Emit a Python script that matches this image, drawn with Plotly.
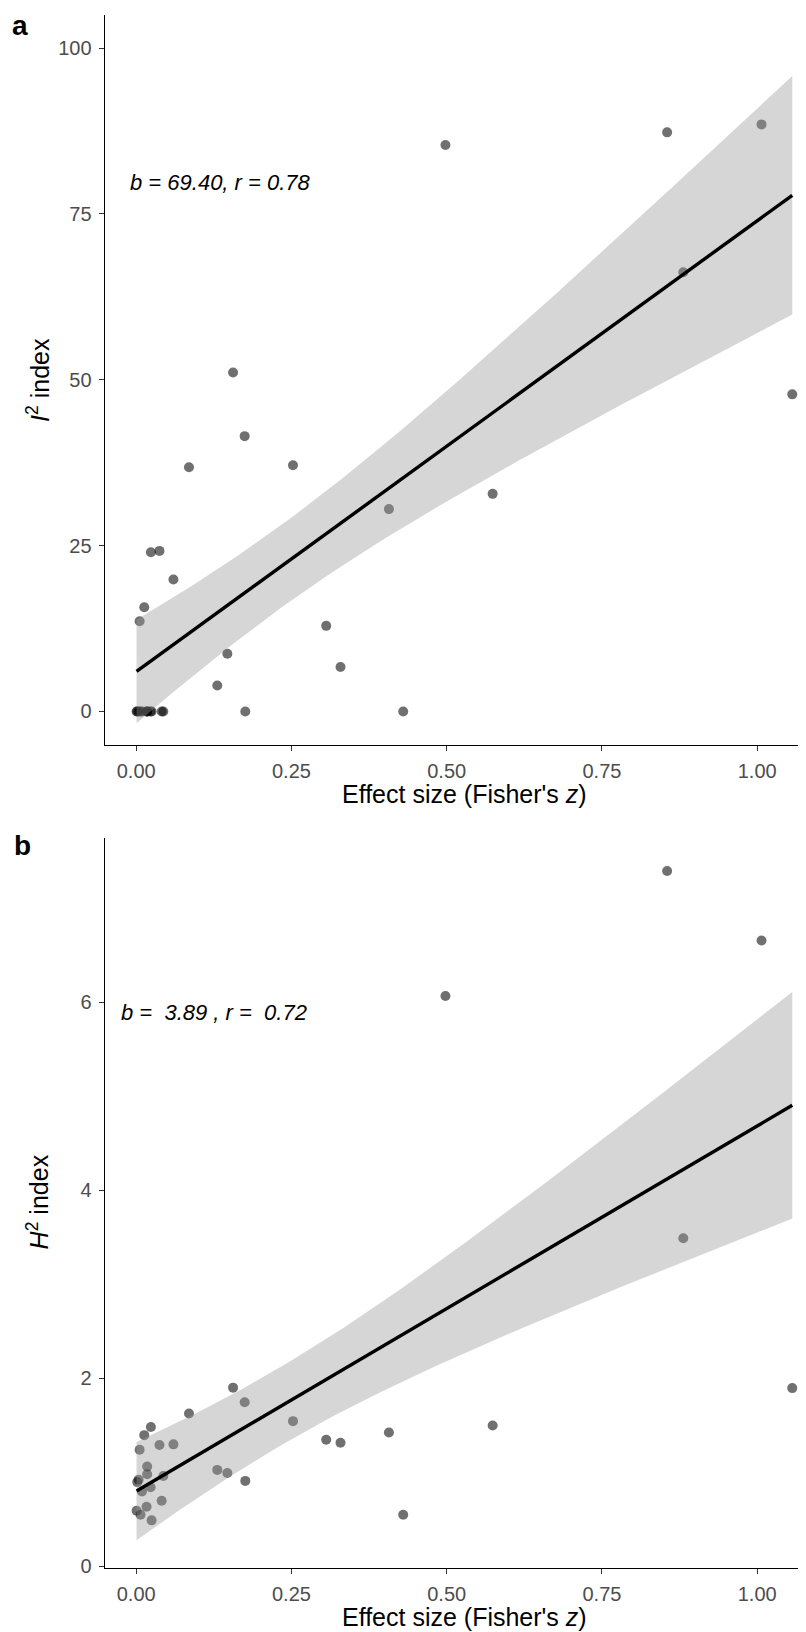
import numpy as np
import plotly.graph_objects as go

# ---------------- data ----------------
effect_z = [0.498, 0.855, 1.007, 0.881, 1.0565, 0.574, 0.430, 0.407, 0.329, 0.306,
            0.2525, 0.156, 0.1747, 0.085, 0.1757, 0.1468, 0.1306,
            0.0237, 0.0375, 0.060, 0.013, 0.0055,
            0.0177, 0.0177, 0.0437, 0.0017, 0.004, 0.0093, 0.0232, 0.041,
            0.0006, 0.0167, 0.007, 0.0248]
i2_index = [85.4, 87.3, 88.5, 66.2, 47.8, 32.8, 0.0, 30.5, 6.7, 12.9,
            37.1, 51.1, 41.5, 36.8, 0.0, 8.7, 3.9,
            24.0, 24.2, 19.9, 15.7, 13.6,
            0, 0, 0, 0, 0, 0, 0, 0,
            0, 0, 0, 0]
h2_index = [6.07, 7.40, 6.66, 3.49, 1.895, 1.497, 0.547, 1.423, 1.313, 1.345,
            1.543, 1.90, 1.744, 1.624, 0.907, 0.992, 1.024,
            1.48, 1.289, 1.296, 1.394, 1.239,
            1.059, 0.978, 0.96, 0.894, 0.92, 0.794, 0.84, 0.696,
            0.59, 0.632, 0.547, 0.487]

x_tickvals = [0, 0.25, 0.5, 0.75, 1.0]
x_ticktext = ["0.00", "0.25", "0.50", "0.75", "1.00"]
ya_tickvals = [0, 25, 50, 75, 100]
yb_tickvals = [0, 2, 4, 6]

label_a = "<i>b = 69.40, r = 0.78</i>"
label_b = "<i>b =\u00a0 3.89 , r =\u00a0 0.72</i>"

T975 = 2.0369  # t quantile, df = n - 2


def lm_fit(x, y, n=80):
    x = np.asarray(x, float)
    y = np.asarray(y, float)
    b1, b0 = np.polyfit(x, y, 1)
    resid = y - (b0 + b1 * x)
    s = np.sqrt(np.sum(resid ** 2) / (len(x) - 2))
    sxx = np.sum((x - x.mean()) ** 2)
    xs = np.linspace(x.min(), x.max(), n)
    ys = b0 + b1 * xs
    se = s * np.sqrt(1 / len(x) + (xs - x.mean()) ** 2 / sxx)
    return xs, ys, ys - T975 * se, ys + T975 * se


FONT = "Arial, 'Liberation Sans', sans-serif"
W, H = 806, 1632

fig = go.Figure()

for (yvals, xa, ya) in [(i2_index, "x", "y"), (h2_index, "x2", "y2")]:
    fig.add_trace(go.Scatter(x=effect_z, y=yvals, mode="markers", xaxis=xa, yaxis=ya,
                             marker=dict(size=10, color="rgba(0,0,0,0.56)", line=dict(width=0)),
                             showlegend=False, hoverinfo="skip"))
    xs, ys, lo, hi = lm_fit(effect_z, yvals)
    fig.add_trace(go.Scatter(x=np.concatenate([xs, xs[::-1]]), y=np.concatenate([hi, lo[::-1]]),
                             mode="lines", fill="toself", fillcolor="rgba(153,153,153,0.4)",
                             line=dict(width=0), xaxis=xa, yaxis=ya, showlegend=False,
                             hoverinfo="skip"))
    fig.add_trace(go.Scatter(x=xs, y=ys, mode="lines", line=dict(color="black", width=3.4),
                             xaxis=xa, yaxis=ya, showlegend=False, hoverinfo="skip"))


def px_x(p):
    return p / W


def px_y(p):
    return 1 - p / H


axis_common = dict(showline=True, linecolor="black", linewidth=1.3, ticks="outside",
                   ticklen=5, tickwidth=1.2, tickcolor="#333333", showgrid=False,
                   zeroline=False, tickfont=dict(family=FONT, size=20, color="#4D4D4D"),
                   ticklabelstandoff=3)

fig.update_layout(
    width=W, height=H, margin=dict(l=0, r=0, t=0, b=0),
    plot_bgcolor="white", paper_bgcolor="white",
    font=dict(family=FONT),
    xaxis=dict(domain=[px_x(96.7), 1.0], range=[-0.0507, 1.0915], anchor="y",
               tickvals=x_tickvals, ticktext=x_ticktext, **axis_common),
    yaxis=dict(domain=[px_y(741), px_y(7)], range=[-5.05, 105.0], anchor="x",
               tickvals=ya_tickvals, **axis_common),
    xaxis2=dict(domain=[px_x(96.7), 1.0], range=[-0.0507, 1.0915], anchor="y2",
                tickvals=x_tickvals, ticktext=x_ticktext, **axis_common),
    yaxis2=dict(domain=[px_y(1569), px_y(835)], range=[-0.024, 7.747], anchor="x2",
                tickvals=yb_tickvals, **axis_common),
)

ann = []
# panel letters
ann.append(dict(text="<b>a</b>", x=px_x(12), y=px_y(17.5), borderpad=0,
                font=dict(size=28, color="black")))
ann.append(dict(text="<b>b</b>", x=px_x(14), y=px_y(842), borderpad=0,
                font=dict(size=28, color="black")))
# axis titles
xt = "Effect size (Fisher's <i>z</i>)"
ann.append(dict(text=xt, x=px_x(456), y=px_y(790), font=dict(size=25, color="black")))
ann.append(dict(text=xt, x=px_x(456), y=px_y(1618), font=dict(size=25, color="black")))
ann.append(dict(text="<i>I</i><sup>2</sup> index", x=px_x(30), y=px_y(374), textangle=-90,
                font=dict(size=25, color="black")))
ann.append(dict(text="<i>H</i><sup>2</sup> index", x=px_x(30), y=px_y(1200), textangle=-90,
                font=dict(size=25, color="black")))
# stats labels
ann.append(dict(text=label_a, x=px_x(120), y=px_y(175), xanchor="left",
                font=dict(size=22, color="black")))
ann.append(dict(text=label_b, x=px_x(111), y=px_y(1010), xanchor="left",
                font=dict(size=22, color="black")))

for a in ann:
    a.setdefault("xanchor", "center")
    a.update(xref="paper", yref="paper", yanchor="middle", showarrow=False)
    a["font"]["family"] = FONT
fig.update_layout(annotations=ann)

fig.write_html("out.html")
